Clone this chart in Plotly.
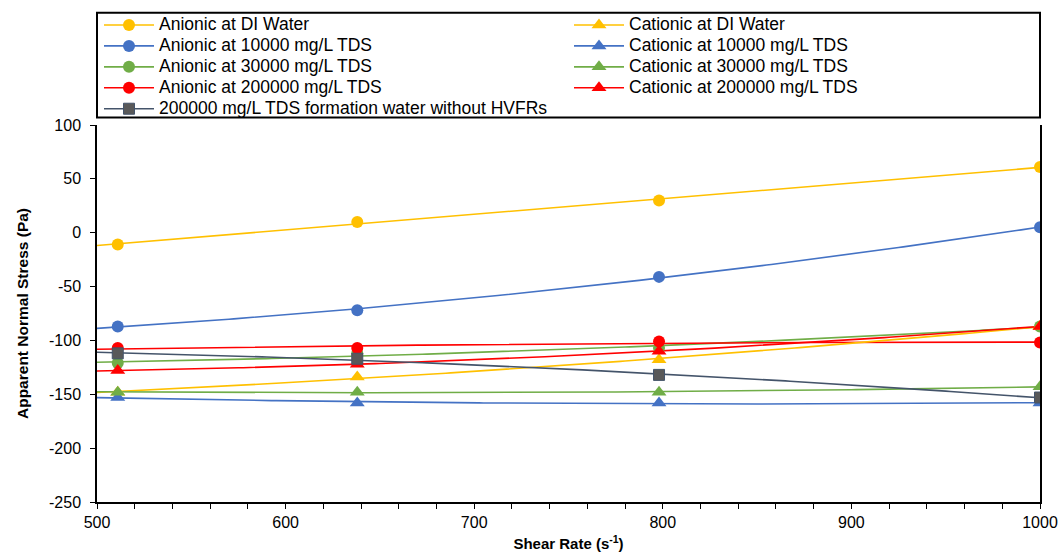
import numpy as np
import plotly.graph_objects as go

# ---- data ----
shear_rate = [511, 638, 798, 1000]
anionic_di = [-11, 10, 30, 61]
anionic_10k = [-87, -72, -41, 5]
anionic_30k = [-121, -112, -107, -87]
anionic_200k = [-107, -107, -101, -102]
cationic_di = [-148, -134, -118, -87]
cationic_10k = [-153, -158, -158, -158]
cationic_30k = [-148, -148, -148, -143]
cationic_200k = [-128, -122, -110, -87]
formation_water = [-112, -117, -132, -153]

y_tick_values = [-250, -200, -150, -100, -50, 0, 50, 100]
y_tick_labels = ["-250", "-200", "-150", "-100", "-50", "0", "50", "100"]

series = [
    ("Anionic at DI Water", anionic_di, "#FFC000", "circle", 1),
    ("Anionic at 10000 mg/L TDS", anionic_10k, "#4472C4", "circle", 3),
    ("Anionic at 30000 mg/L TDS", anionic_30k, "#70AD47", "circle", 5),
    ("Anionic at 200000 mg/L TDS", anionic_200k, "#FF0000", "circle", 7),
    ("Cationic at DI Water", cationic_di, "#FFC000", "triangle-up", 2),
    ("Cationic at 10000 mg/L TDS", cationic_10k, "#4472C4", "triangle-up", 4),
    ("Cationic at 30000 mg/L TDS", cationic_30k, "#70AD47", "triangle-up", 6),
    ("Cationic at 200000 mg/L TDS", cationic_200k, "#FF0000", "triangle-up", 8),
    ("200000 mg/L TDS formation water without HVFRs", formation_water, "#44546A", "square", 9),
]

FONT = "Liberation Sans, Arial, sans-serif"
x_arr = np.array(shear_rate, dtype=float)
x_fit = np.linspace(500, 1000, 201)

fig = go.Figure()
for name, vals, color, symbol, rank in series:
    coef = np.polyfit(x_arr, np.array(vals, dtype=float), 2)
    fig.add_trace(go.Scatter(
        x=x_fit, y=np.polyval(coef, x_fit), mode="lines",
        line=dict(color=color, width=1.6), showlegend=False, hoverinfo="skip"))

for name, vals, color, symbol, rank in series:
    if symbol == "square":
        mk = dict(symbol=symbol, size=11, color="#595959", line=dict(color="#44546A", width=1))
    else:
        mk = dict(symbol=symbol, size=12 if symbol == "circle" else 13, color=color, line=dict(width=0))
    fig.add_trace(go.Scatter(x=shear_rate, y=vals, mode="markers", marker=mk,
                             showlegend=False, name=name))
    fig.add_trace(go.Scatter(x=[None], y=[None], mode="lines+markers",
                             name='<span style="font-size:17.5px">' + name + "</span>",
                             marker=mk, line=dict(color=color, width=1.6),
                             legendrank=rank, showlegend=True))

plot_h = 555 - 125 - 53
plot_w = 1063 - 97 - 23
fig.update_layout(
    width=1063, height=555,
    margin=dict(l=97, r=23, t=125, b=53, autoexpand=False),
    paper_bgcolor="white", plot_bgcolor="white",
    font=dict(family=FONT, size=16, color="#000000"),
    legend=dict(
        orientation="h", x=2 / plot_w, xanchor="left", y=1 + (125 - 9.5) / plot_h, yanchor="top",
        entrywidth=405, itemwidth=50,
        font=dict(family=FONT, size=13.8, color="#000000"),
        borderwidth=0, bgcolor="rgba(0,0,0,0)",
        traceorder="normal",
    ),
    shapes=[dict(type="rect", xref="paper", yref="paper",
                 x0=0, x1=1, y0=1 + (125 - 117.5) / plot_h, y1=1 + (125 - 12.7) / plot_h,
                 line=dict(color="#000000", width=2), fillcolor="rgba(0,0,0,0)", layer="above")],
    xaxis=dict(
        range=[500, 1000], dtick=100, tick0=500,
        showgrid=False, zeroline=False,
        showline=True, linecolor="#000000", linewidth=1.5,
        ticks="outside", ticklen=5, tickcolor="#000000", tickwidth=1,
        minor=dict(dtick=20, ticks="outside", ticklen=5, tickcolor="#000000", tickwidth=1),
        tickfont=dict(family=FONT, size=16),
        title=dict(text="<b>Shear Rate (s<sup>-1</sup>)</b>", font=dict(family=FONT, size=15), standoff=9),
    ),
    yaxis=dict(
        range=[-250, 100], tickmode="array", tickvals=y_tick_values, ticktext=y_tick_labels,
        showgrid=False, zeroline=False,
        showline=True, linecolor="#000000", linewidth=1.5, mirror=True,
        ticks="outside", ticklen=5, tickcolor="#000000", tickwidth=1,
        ticklabelstandoff=6,
        tickfont=dict(family=FONT, size=16),
        title=dict(text="<b>Apparent Normal Stress (Pa)</b>", font=dict(family=FONT, size=15.5), standoff=17),
    ),
)

fig.write_html("out.html")
